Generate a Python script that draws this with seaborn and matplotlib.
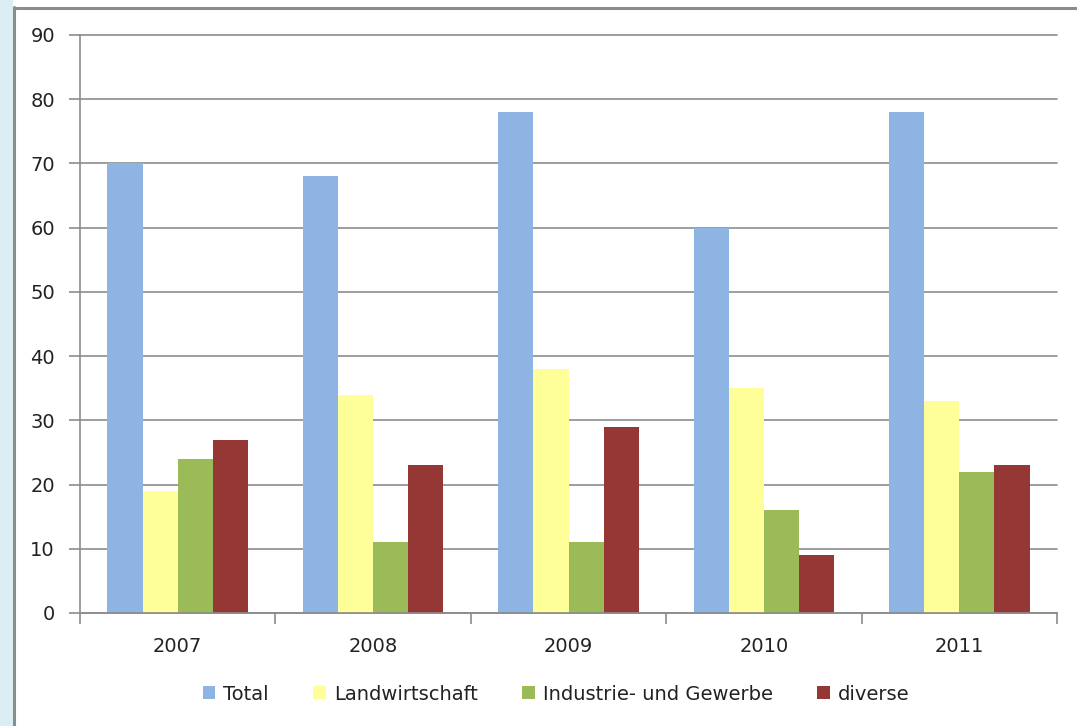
import matplotlib
matplotlib.use("Agg")
import matplotlib.pyplot as plt
import seaborn as sns
import pandas as pd
from matplotlib.patches import Rectangle
from matplotlib.lines import Line2D

years = ["2007", "2008", "2009", "2010", "2011"]
series = ["Total", "Landwirtschaft", "Industrie- und Gewerbe", "diverse"]
total = [70, 68, 78, 60, 78]
landwirtschaft = [19, 34, 38, 35, 33]
industrie = [24, 11, 11, 16, 22]
diverse = [27, 23, 29, 9, 23]
yticks = [0, 10, 20, 30, 40, 50, 60, 70, 80, 90]
colors = ["#8EB4E3", "#FFFF99", "#9BBB59", "#953735"]

rows = []
for name, vals in zip(series, [total, landwirtschaft, industrie, diverse]):
    for y, v in zip(years, vals):
        rows.append({"Jahr": y, "Serie": name, "Wert": v})
df = pd.DataFrame(rows)

sns.set_theme(style="white")
plt.rcParams["font.family"] = ["DejaVu Sans"]

fig = plt.figure(figsize=(10.77, 7.26), dpi=100)
W, H = 1077, 726
ax = fig.add_axes([80 / W, 1 - 613 / H, (1057 - 80) / W, (613 - 35) / H])

sns.barplot(data=df, x="Jahr", y="Wert", hue="Serie", hue_order=series,
            palette=colors, width=0.72, gap=0, saturation=1, ax=ax,
            edgecolor="none", legend=False)

ax.set_xlim(-0.5, 4.5)
ax.set_ylim(0, 90)
ax.set_yticks(yticks)
ax.set_yticklabels([str(t) for t in yticks], fontsize=14, color="#222222")
ax.yaxis.grid(True, color="#8C8C8C", linewidth=1.2)
for gl in ax.get_ygridlines():
    gl.set_clip_on(False)
ax.set_axisbelow(True)
ax.set_xlabel("")
ax.set_ylabel("")

for s in ["top", "right"]:
    ax.spines[s].set_visible(False)
ax.spines["left"].set_color("#8C8C8C")
ax.spines["bottom"].set_color("#8C8C8C")
ax.spines["left"].set_linewidth(1.2)
ax.spines["bottom"].set_linewidth(1.2)

ax.tick_params(axis="y", which="major", left=True, length=8, width=1.2,
               color="#8C8C8C", pad=10, direction="out")
ax.set_xticks(range(len(years)))
ax.set_xticklabels(years, fontsize=14, color="#222222")
ax.tick_params(axis="x", which="major", bottom=False, length=0, pad=17)
ax.set_xticks([i - 0.5 for i in range(len(years) + 1)], minor=True)
ax.tick_params(axis="x", which="minor", bottom=True, length=8, width=1.2,
               color="#8C8C8C", direction="out")

handles = [Rectangle((0, 0), 1, 1, facecolor=c, edgecolor="none") for c in colors]
fig.legend(handles, series, loc="center", bbox_to_anchor=(556 / W, 1 - 694 / H),
           ncol=4, frameon=False, fontsize=14, handlelength=0.65, handleheight=0.65,
           handletextpad=0.4, columnspacing=2.3, labelcolor="#222222")

# outer frame decoration
fig.patches.append(Rectangle((0, 0), 13 / W, 1, transform=fig.transFigure,
                             facecolor="#DAEEF3", edgecolor="none", zorder=0))
fig.lines.append(Line2D([14 / W, 14 / W], [0, 1 - 7 / H], transform=fig.transFigure,
                        color="#8C8C8C", linewidth=2.2))
fig.lines.append(Line2D([14 / W, 1], [1 - 8 / H, 1 - 8 / H], transform=fig.transFigure,
                        color="#8C8C8C", linewidth=2.2))

fig.savefig("out.png", dpi=100)
